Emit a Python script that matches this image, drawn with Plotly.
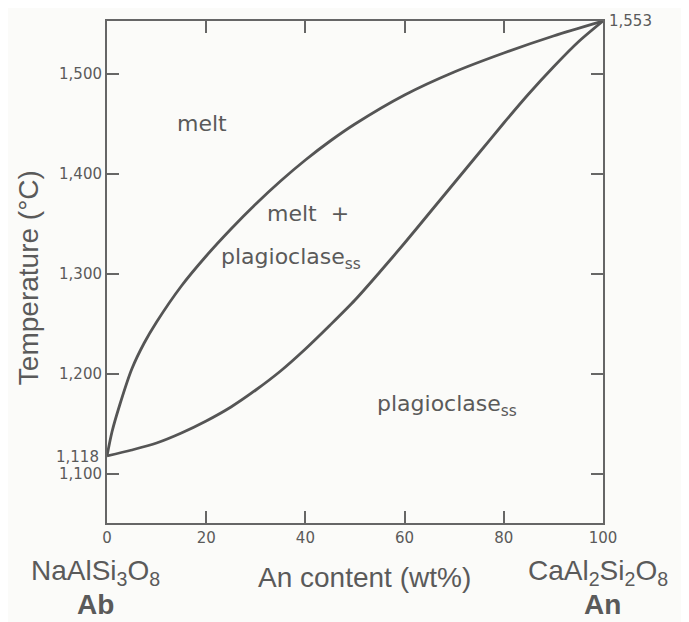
import plotly.graph_objects as go

# An content (wt%) and temperatures (°C)
liquidus_an = [0, 1, 2.5, 5, 7.5, 10, 15, 20, 25, 30, 35, 40, 45, 50, 60, 70, 80, 90, 100]
liquidus_t = [1118, 1142, 1168, 1205, 1231, 1252, 1288, 1318, 1345, 1370, 1393, 1414, 1433, 1450, 1479, 1502, 1521, 1538, 1553]

solidus_an = [0, 5, 10, 15, 20, 25, 30, 35, 40, 45, 50, 55, 60, 65, 70, 75, 80, 85, 90, 95, 100]
solidus_t = [1118, 1124, 1131, 1141, 1153, 1167, 1184, 1203, 1225, 1249, 1274, 1302, 1331, 1361, 1391, 1421, 1451, 1480, 1507, 1532, 1553]

x_ticks = [0, 20, 40, 60, 80, 100]
y_ticks = [1100, 1200, 1300, 1400, 1500]
y_ticktext = ["1,100", "1,200", "1,300", "1,400", "1,500"]

line_color = "#555555"
text_color = "#5a5a5a"
axis_color = "#666666"

fig = go.Figure()
for xs, ys in [(liquidus_an, liquidus_t), (solidus_an, solidus_t)]:
    fig.add_trace(go.Scatter(x=xs, y=ys, mode="lines",
                             line=dict(color=line_color, width=2.8, shape="spline", smoothing=0.8),
                             showlegend=False, hoverinfo="skip"))

lab_font = dict(family="DejaVu Sans", size=22, color=text_color)
tick_font = dict(family="DejaVu Sans", size=15, color=text_color)
ann = [
    dict(x=19.2, y=1451, text="melt", font=lab_font),
    dict(x=40.5, y=1361, text="melt  +", font=lab_font),
    dict(x=37.1, y=1316, text="plagioclase<sub>ss</sub>", font=lab_font),
    dict(x=68.5, y=1169, text="plagioclase<sub>ss</sub>", font=lab_font),
    dict(x=100, y=1553, text="1,553", xanchor="left", xshift=4, font=tick_font),
    dict(x=0, y=1118, text="1,118", xanchor="right", xshift=-6, yshift=-1, font=tick_font),
]
for a in ann:
    fig.add_annotation(xref="x", yref="y", showarrow=False, **a)

big = dict(family="Liberation Sans", size=28, color=text_color)
paper_ann = [
    dict(x=-0.024, y=-0.099, text="NaAlSi<sub>3</sub>O<sub>8</sub>"),
    dict(x=-0.024, y=-0.162, text="<b>Ab</b>"),
    dict(x=0.52, y=-0.109, text="An content (wt%)"),
    dict(x=0.99, y=-0.098, text="CaAl<sub>2</sub>Si<sub>2</sub>O<sub>8</sub>"),
    dict(x=0.998, y=-0.163, text="<b>An</b>"),
    dict(x=-0.159, y=0.488, text="Temperature (°C)", textangle=-90),
]
for a in paper_ann:
    fig.add_annotation(xref="paper", yref="paper", showarrow=False, font=big,
                       xanchor="center", yanchor="middle", **a)

# page body has an 8px margin, so the figure is sized to fill the window
fig.update_layout(
    width=681, height=614,
    margin=dict(l=99, r=86, t=11, b=99),
    paper_bgcolor="#fbfbf9", plot_bgcolor="#fbfbf9",
    showlegend=False,
)
fig.update_xaxes(range=[0, 100], tickvals=x_ticks, ticks="inside", ticklen=12, tickwidth=1.6,
                 tickcolor=axis_color, showline=True, linecolor=axis_color, linewidth=2,
                 mirror="ticks", showgrid=False, zeroline=False, tickfont=tick_font)
fig.update_yaxes(range=[1051, 1553], tickvals=y_ticks, ticktext=y_ticktext, ticks="inside",
                 ticklen=12, tickwidth=1.6, tickcolor=axis_color, showline=True,
                 linecolor=axis_color, linewidth=2, mirror="ticks", showgrid=False,
                 zeroline=False, tickfont=tick_font)

fig.write_html("out.html")
